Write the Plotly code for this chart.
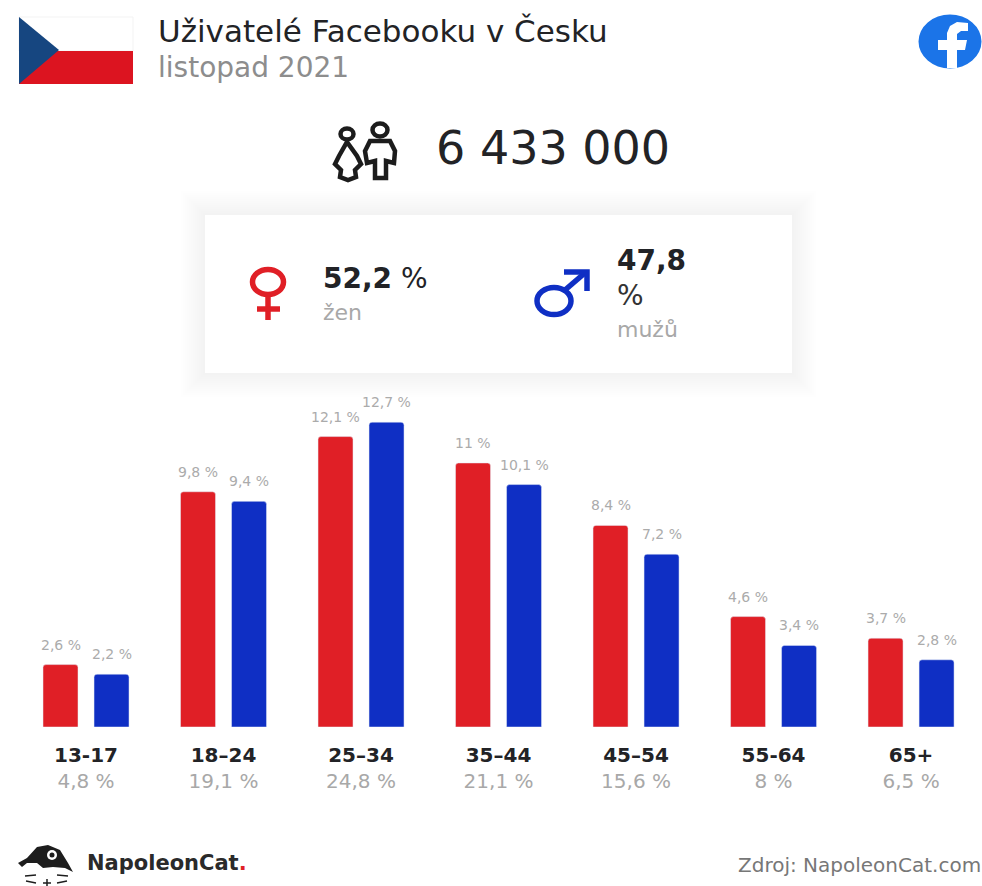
import plotly.graph_objects as go

W, H = 982, 886
age_groups = ["13-17", "18–24", "25–34", "35–44", "45–54", "55-64", "65+"]
age_totals = ["4,8 %", "19,1 %", "24,8 %", "21,1 %", "15,6 %", "8 %", "6,5 %"]
women = [2.6, 9.8, 12.1, 11, 8.4, 4.6, 3.7]
men = [2.2, 9.4, 12.7, 10.1, 7.2, 3.4, 2.8]
women_labels = ["2,6 %", "9,8 %", "12,1 %", "11 %", "8,4 %", "4,6 %", "3,7 %"]
men_labels = ["2,2 %", "9,4 %", "12,7 %", "10,1 %", "7,2 %", "3,4 %", "2,8 %"]

RED, BLUE, DARK, GREY = "#e01f26", "#0f2fc4", "#222326", "#a8a8a8"
FONT = "DejaVu Sans"

def X(p): return p / W
def Y(p): return 1 - p / H

def rect(x0, y0, x1, y1, fill, line=None, op=1):
    return dict(type="rect", xref="paper", yref="paper", x0=X(x0), x1=X(x1), y0=Y(y0), y1=Y(y1),
                fillcolor=fill, opacity=op, line=dict(width=1 if line else 0, color=line or fill), layer="below")

def path(points, fill=None, line=None, width=0, close=True, layer="above"):
    d = "M" + " L".join(f"{X(a):.5f},{Y(b):.5f}" for a, b in points) + (" Z" if close else "")
    return dict(type="path", xref="paper", yref="paper", path=d, fillcolor=fill or "rgba(0,0,0,0)",
                line=dict(width=width, color=line or "rgba(0,0,0,0)"), layer=layer)

def ellipse(cx, cy, rx, ry, fill=None, line=None, width=0):
    return dict(type="circle", xref="paper", yref="paper", x0=X(cx - rx), x1=X(cx + rx), y0=Y(cy + ry), y1=Y(cy - ry),
                fillcolor=fill or "rgba(0,0,0,0)", line=dict(width=width, color=line or "rgba(0,0,0,0)"))

def seg(points, color, width):
    return path(points, line=color, width=width, close=False)

shapes = []
# soft card shadow and card
for g in range(24, 0, -2):
    shapes.append(rect(205 - g, 215 - g, 792 + g, 373 + g, "#000000", op=0.0035))
shapes.append(rect(205, 215, 792, 373, "#ffffff"))
# flag
shapes.append(rect(19, 17, 133, 51, "#ffffff", line="#f3f3f3"))
shapes.append(path([(19, 51), (133, 51), (133, 84), (19, 84)], fill="#dc1420"))
shapes.append(path([(19, 17), (59, 50), (19, 84)], fill="#164680"))
# facebook icon
shapes.append(ellipse(950, 41.5, 31.5, 27, fill="#1b74e8"))
shapes.append(path([(947, 68), (947, 50), (938, 50), (938, 40), (947, 40), (947, 33), (950, 26), (957, 22),
                    (968, 23), (968, 31), (961, 31), (957, 34), (957, 40), (967, 40), (965, 50), (957, 50), (957, 68)],
                   fill="#ffffff"))
# people icon
INK = "#1c1c1c"
shapes.append(ellipse(347, 134, 6.5, 5.5, line=INK, width=4.5))
shapes.append(ellipse(380, 130, 7.5, 6.5, line=INK, width=4.5))
shapes.append(path([(347, 142), (357, 156), (361, 164), (355, 170), (356, 177), (348, 180), (340, 177),
                    (341, 170), (335, 164), (339, 156)], line=INK, width=4.5))
shapes.append(path([(370, 141), (390, 141), (395, 151), (394, 163), (386, 161), (386, 178), (375, 178),
                    (375, 161), (367, 163), (365, 151)], line=INK, width=4.5))
# venus
shapes.append(ellipse(268, 282, 15.5, 12.5, line=RED, width=5.5))
shapes.append(seg([(268, 296), (268, 320)], RED, 5.5))
shapes.append(seg([(257, 309), (280, 309)], RED, 5.5))
# mars
shapes.append(ellipse(554, 301, 17, 13.5, line=BLUE, width=5.5))
shapes.append(seg([(565, 290), (586, 272)], BLUE, 5.5))
shapes.append(seg([(564, 272), (587, 272), (587, 291)], BLUE, 5.5))
# cat logo
CAT = "#1d1d1d"
shapes.append(path([(18, 863), (27, 858), (37, 847), (48, 845), (60, 850), (68, 863), (73, 872),
                    (65, 868), (53, 867), (43, 868), (37, 863), (27, 863), (22, 867)], fill=CAT))
shapes.append(ellipse(52, 855, 5, 5, fill="#ffffff"))
shapes.append(ellipse(52, 855, 2.5, 2.5, fill=CAT))
for a, b in [((25, 876), (36, 875)), ((26, 881), (36, 883)), ((57, 875), (68, 876)), ((57, 883), (67, 881)),
             ((47, 879), (47, 886)), ((43, 883), (51, 883))]:
    shapes.append(seg([a, b], CAT, 1.5))

def txt(x, y, s, size, color, anchor="left"):
    return dict(x=X(x), y=Y(y), xref="paper", yref="paper", xanchor=anchor, yanchor="middle", showarrow=False,
                text=s, font=dict(family=FONT, size=size, color=color), align="left")

annotations = [
    txt(156, 31, "Uživatelé Facebooku v Česku", 31, DARK),
    txt(156, 68, "listopad 2021", 28, "#8d8d8d"),
    txt(434, 148, "6 433 000", 46, DARK),
    txt(321, 278, "<b>52,2</b> %", 28, DARK),
    txt(321, 312, "žen", 22, GREY),
    txt(615, 260, "<b>47,8</b>", 28, DARK),
    txt(615, 295, "%", 28, "#333333"),
    txt(615, 329, "mužů", 22, GREY),
    txt(85, 863, "<b>NapoleonCat</b><span style='color:#e01f26'><b>.</b></span>", 21, "#2a2a2a"),
    txt(983, 865, "Zdroj: NapoleonCat.com", 20, "#777777", anchor="right"),
]
label_font = dict(family=FONT, size=14, color="#ababab")
for cats, vals, labels, shift in ((age_groups, women, women_labels, -25.5), (age_groups, men, men_labels, 25.5)):
    for c, v, s in zip(cats, vals, labels):
        annotations.append(dict(x=c, y=v, xref="x", yref="y", text=s, showarrow=False, xanchor="center",
                                yanchor="bottom", xshift=shift, yshift=10, font=label_font))

tick_text = [f"<b>{a}</b><br><span style='color:{GREY}'>{t}</span>" for a, t in zip(age_groups, age_totals)]

fig = go.Figure()
fig.add_bar(name="Ženy", x=age_groups, y=women, marker_color=RED)
fig.add_bar(name="Muži", x=age_groups, y=men, marker_color=BLUE)

fig.update_layout(
    width=W, height=H, margin=dict(l=0, r=0, t=0, b=0), autosize=False,
    paper_bgcolor="#ffffff", plot_bgcolor="rgba(0,0,0,0)", showlegend=False,
    barmode="group", bargap=0.258, bargroupgap=0.314, barcornerradius=3,
    shapes=shapes, annotations=annotations,
    xaxis=dict(type="category", range=[-0.6255, 6.516], domain=[0, 1], tickmode="array",
               tickvals=age_groups, ticktext=tick_text, showgrid=False, zeroline=False, showline=False,
               ticks="outside", ticklen=10, tickcolor="rgba(0,0,0,0)",
               tickfont=dict(family=FONT, size=20, color=DARK), automargin=False),
    yaxis=dict(range=[0, 14.04], domain=[1 - 727 / H, 1 - 390 / H], visible=False, showgrid=False, zeroline=False),
)
fig.write_html("out.html", config={"displayModeBar": False}, post_script="document.body.style.margin='0';")
